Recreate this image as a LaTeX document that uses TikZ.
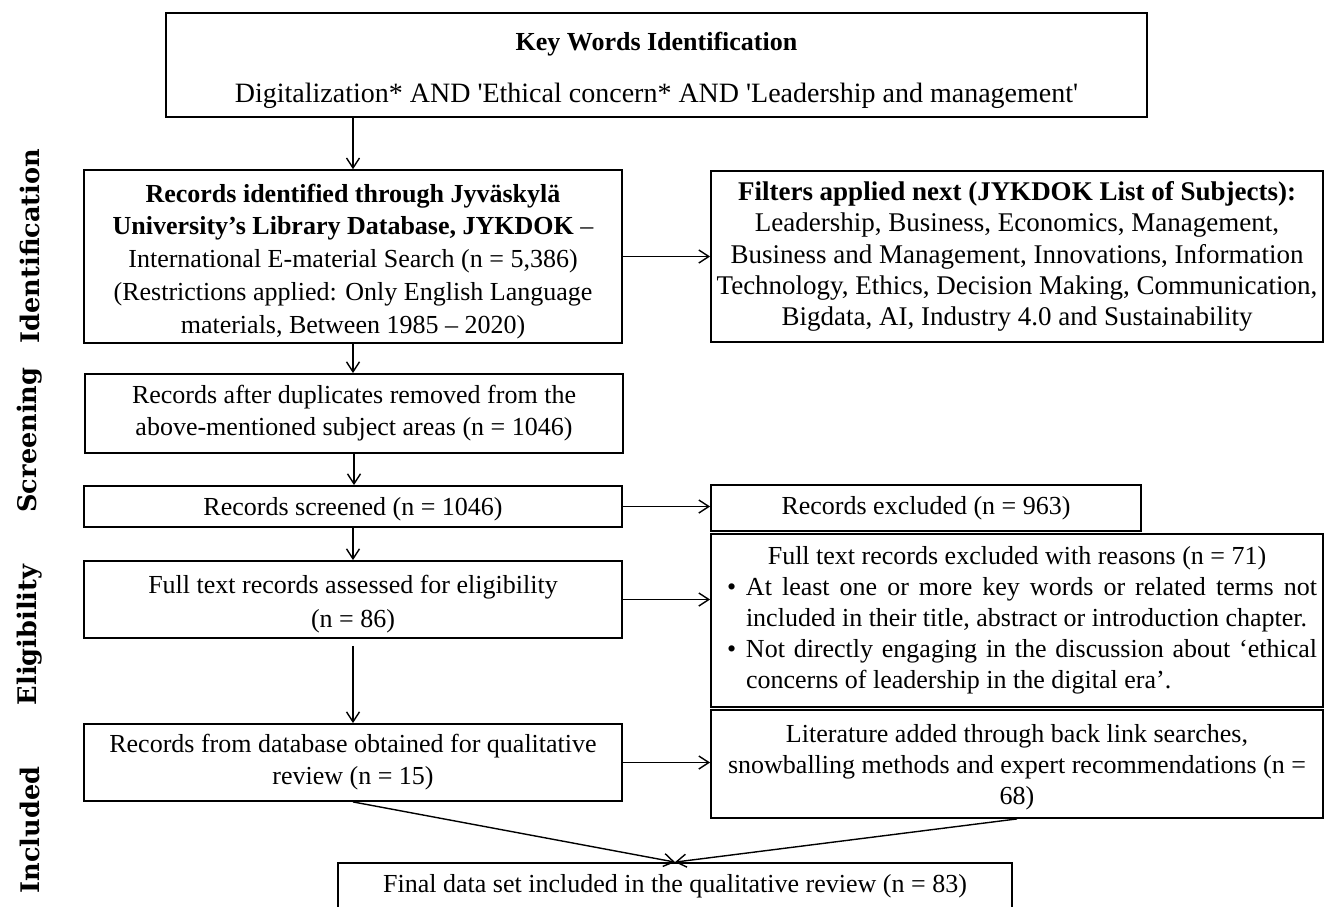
\documentclass[tikz,border=0pt]{standalone}
\usepackage{fontspec}
\setmainfont{Liberation Serif}[Ligatures=TeXOff]
\newfontfamily\stagefont{DejaVu Serif}
\usetikzlibrary{arrows.meta}
\tikzstyle{box} = [rectangle, draw=black, line width=0.9pt, align=center, inner sep=2pt, font=\fontsize{13}{16}\selectfont]
\tikzstyle{stage} = [rotate=90, font=\stagefont\bfseries\fontsize{12.8}{15}\selectfont]
\tikzstyle{arrow} = [line width=0.7pt,->,>={Straight Barb[length=5pt,width=6.5pt]}]

\begin{document}
\begin{tikzpicture}[x=0.5pt, y=-0.5pt]
\useasboundingbox (0,0) rectangle (1325,906);

\node (kw) [box, minimum width=490.5pt, minimum height=52pt] at (656.5,65) {\rule{0pt}{15pt}\textbf{Key Words Identification}\\[10pt] {\fontsize{14}{16}\selectfont Digitalization* AND 'Ethical concern* AND 'Leadership and management'}};
\node (rid) [box, minimum width=269pt, minimum height=85.5pt, font=\fontsize{13}{16.4}\selectfont] at (353,256.5) {\rule{0pt}{14pt}\textbf{Records identified through Jyväskylä}\\ \textbf{University’s Library Database, JYKDOK} –\\ International E-material Search (n = 5,386)\\ (Restrictions applied: Only English Language\\ materials, Between 1985 – 2020)};
\node (filt) [box, minimum width=306pt, minimum height=85.5pt, font=\fontsize{13.5}{15.6}\selectfont] at (1017,256.5) {\textbf{Filters applied next (JYKDOK List of Subjects):}\\ Leadership, Business, Economics, Management,\\ Business and Management, Innovations, Information\\ Technology, Ethics, Decision Making, Communication,\\ Bigdata, AI, Industry 4.0 and Sustainability};
\node (dup) [box, minimum width=269pt, minimum height=39.5pt] at (354,413.5) {Records after duplicates removed from the\\ above-mentioned subject areas (n = 1046)};
\node (scr) [box, minimum width=269pt, minimum height=20.5pt] at (353,506.5) {\rule{0pt}{12pt}Records screened (n = 1046)};
\node (exc) [box, minimum width=215pt, minimum height=23pt] at (926,508) {Records excluded (n = 963)};
\node (full) [box, minimum width=269pt, minimum height=38.5pt, font=\fontsize{13}{17}\selectfont] at (353,599.5) {\rule{0pt}{14pt}Full text records assessed for eligibility\\ (n = 86)};
\node (ftex) [box, text width=300pt, inner xsep=3pt, minimum height=86.5pt, align=justify, font=\fontsize{13}{15.5}\selectfont] at (1017,620.5) {{\centering Full text records excluded with reasons (n = 71)\par}
\hangindent=14.5pt\hangafter=1\noindent\makebox[14.5pt][l]{\hspace{5pt}\textbullet}At least one or more key words or related terms not\linebreak included in their title, abstract or introduction chapter.\par
\hangindent=14.5pt\hangafter=1\noindent\makebox[14.5pt][l]{\hspace{5pt}\textbullet}Not directly engaging in the discussion about ‘ethical\linebreak concerns of leadership in the digital era’.\par};
\node (db) [box, minimum width=269pt, minimum height=38.5pt] at (353,762.5) {Records from database obtained for qualitative\\ review (n = 15)};
\node (lit) [box, minimum width=306pt, minimum height=54pt, font=\fontsize{13}{15.5}\selectfont] at (1017,764) {\rule{0pt}{12pt}Literature added through back link searches,\\ snowballing methods and expert recommendations (n =\\ 68)};
\node (fin) [box, minimum width=337pt, minimum height=23pt] at (675,886) {Final data set included in the qualitative review (n = 83)};

\node (idn) [stage] at (30,246) {Identification};
\node (scrn) [stage] at (30,440) {Screening};
\node (elig) [stage] at (30,635) {Eligibility};
\node (incl) [stage] at (30,830) {Included};

\draw [arrow] (kw.south -| rid.north) -- (rid.north);
\draw [arrow] (rid.east) -- (filt.west);
\draw [arrow] (rid.south) -- (rid.south |- dup.north);
\draw [arrow] (dup.south) -- (dup.south |- scr.north);
\draw [arrow] (scr.east) -- (scr.east -| exc.west);
\draw [arrow] (scr.south) -- (scr.south |- full.north);
\draw [arrow] (full.east) -- (full.east -| ftex.west);
\draw [arrow, shorten <=3.5pt] (full.south) -- (db.north);
\draw [arrow] (db.east) -- (db.east -| lit.west);
\draw [arrow] (db.south) -- (fin.north);
\draw [arrow] (lit.south) -- (fin.north);
\end{tikzpicture}
\end{document}
